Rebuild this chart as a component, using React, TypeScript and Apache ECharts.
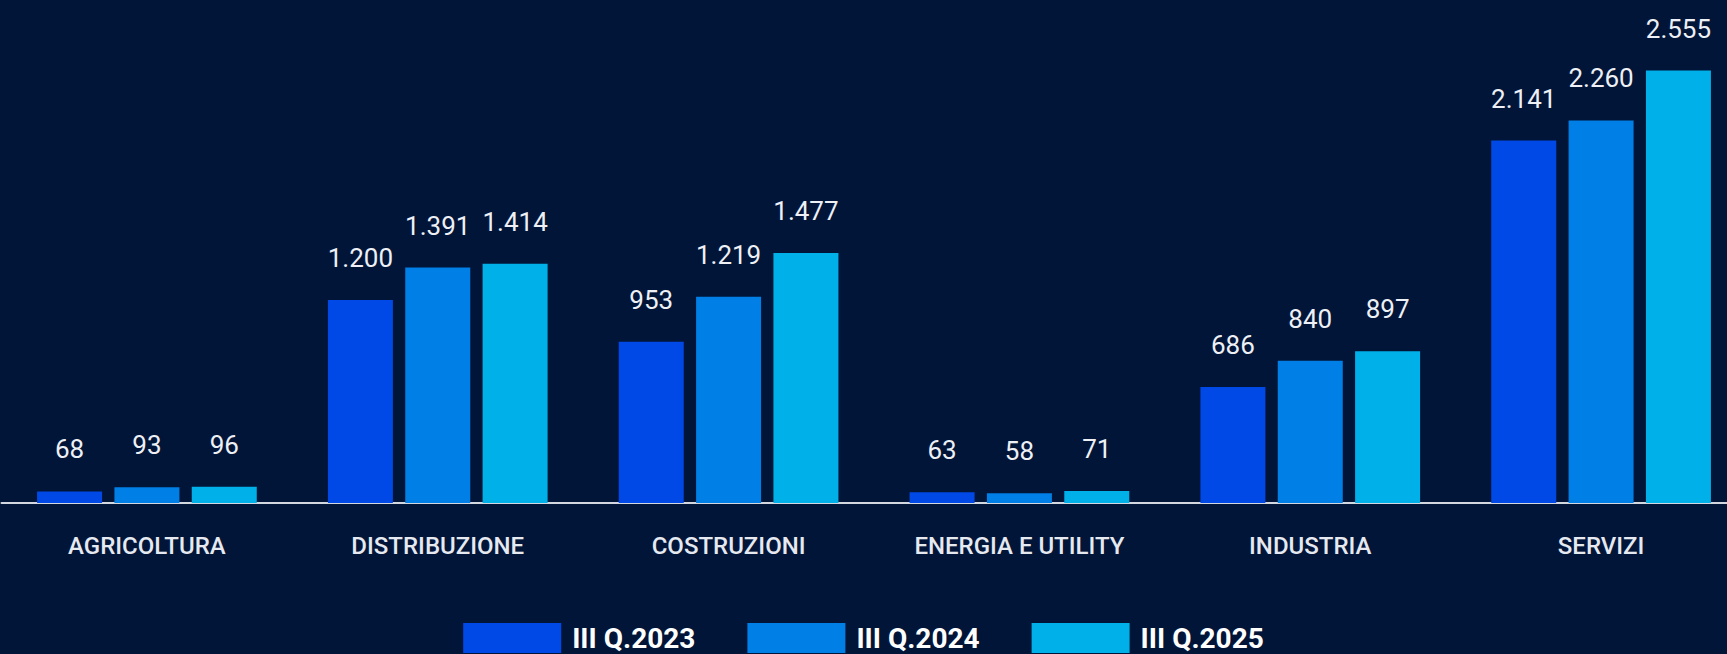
import React, { useEffect, useRef } from "react";
import * as echarts from "echarts";

const categories = ["AGRICOLTURA", "DISTRIBUZIONE", "COSTRUZIONI", "ENERGIA E UTILITY", "INDUSTRIA", "SERVIZI"];
const seriesNames = ["III Q.2023", "III Q.2024", "III Q.2025"];
const values2023 = [68, 1200, 953, 63, 686, 2141];
const values2024 = [93, 1391, 1219, 58, 840, 2260];
const values2025 = [96, 1414, 1477, 71, 897, 2555];
const colors = ["#0049E6", "#007FE6", "#00B0E8"];

const fmt = (v: number) => String(v).replace(/\B(?=(\d{3})+(?!\d))/g, ".");

export default function App() {
  const ref = useRef<HTMLDivElement>(null);
  useEffect(() => {
    if (!ref.current) return;
    const chart = echarts.init(ref.current, null, { renderer: "svg" });
    const allValues = [values2023, values2024, values2025];
    chart.setOption({
      animation: false,
      backgroundColor: "#001538",
      textStyle: { fontFamily: "Roboto" },
      grid: { left: 1.5, width: 1745, top: 2, bottom: 151, containLabel: false, outerBoundsMode: "none" },
      legend: {
        left: "center",
        top: 623,
        padding: 0,
        itemWidth: 98,
        itemHeight: 30,
        itemGap: 52,
        icon: "rect",
        textStyle: {
          color: "#ffffff",
          fontSize: 28,
          lineHeight: 28,
          fontWeight: "bold",
          fontFamily: "Roboto",
          padding: [0, 0, 0, 6],
        },
        data: seriesNames,
      },
      xAxis: {
        type: "category",
        data: categories,
        axisLine: { show: true, lineStyle: { color: "#d3d7e0", width: 2 } },
        axisTick: { show: false },
        axisLabel: { color: "#e6e9f0", fontSize: 24, fontWeight: 500, margin: 31, fontFamily: "Roboto" },
      },
      yAxis: {
        type: "value",
        min: 0,
        max: 2960,
        show: false,
        splitLine: { show: false },
      },
      series: seriesNames.map((name, i) => ({
        name,
        type: "bar",
        data: allValues[i],
        barWidth: 65,
        barGap: "19%",
        itemStyle: { color: colors[i] },
        label: {
          show: true,
          position: "top",
          distance: 29,
          color: "#eef0f5",
          fontSize: 26,
          fontFamily: "Roboto",
          formatter: (p: any) => fmt(p.value),
        },
      })),
    });
    return () => chart.dispose();
  }, []);
  return <div ref={ref} style={{ position: "fixed", left: 0, top: 0, width: 1727, height: 654 }} />;
}
